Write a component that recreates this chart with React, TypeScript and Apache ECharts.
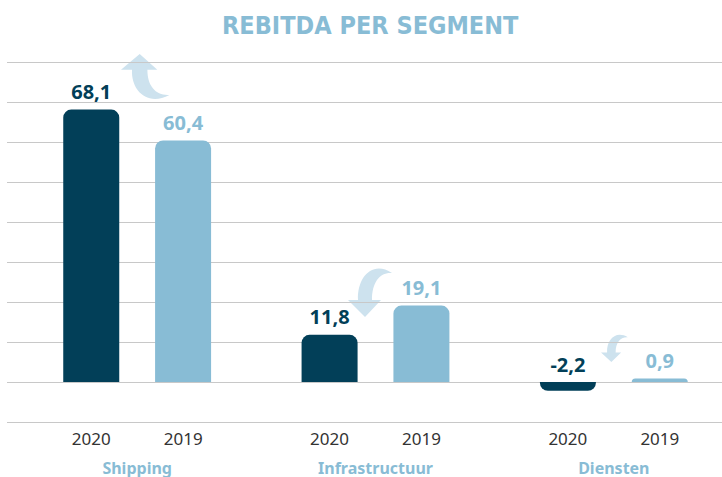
import React, { useEffect, useRef } from 'react';
import * as echarts from 'echarts';

const segments = ['Shipping', 'Infrastructuur', 'Diensten'];
const years = ['2020', '2019'];
const values2020 = [68.1, 11.8, -2.2];
const values2019 = [60.4, 19.1, 0.9];
const yMin = -10;
const yMax = 80;
const yInterval = 10;

const DARK = '#023f58';
const LIGHT = '#88bcd5';
const ARROW = '#cde2ee';

const ARROW_D = 'M 10 40 C 9 18 24 0 44 13 C 32 12 24 22 24 40 L 33 40 L 17 57 L 0 40 Z';
echarts.graphic.registerShape('curvedArrow', echarts.graphic.extendPath(ARROW_D, {}));

const fmt = (v: number) => v.toFixed(1).replace('.', ',');

const barData = (vals: number[]) =>
  vals.map((v) => ({
    value: v,
    itemStyle: { borderRadius: v >= 0 ? [8, 8, 0, 0] : [0, 0, 8, 8] },
  }));

export default function App() {
  const ref = useRef<HTMLDivElement>(null);
  useEffect(() => {
    if (!ref.current) return;
    const chart = echarts.init(ref.current, undefined, { renderer: 'svg' });
    const labelFont = { fontFamily: 'Noto Sans', fontWeight: 'bold' as const, fontSize: 20 };
    chart.setOption({
      animation: false,
      title: {
        text: 'REBITDA PER SEGMENT',
        left: 217,
        top: 8,
        textStyle: {
          fontFamily: 'DejaVu Sans Condensed',
          fontWeight: 'bold',
          fontSize: 25,
          color: LIGHT,
        },
      },
      grid: [
        { left: 7, right: 11, top: 62, height: 360 },
        { left: 18, right: 0, top: 62, height: 360 },
      ],
      xAxis: [
        { gridIndex: 0, type: 'value', show: false },
        {
          gridIndex: 1,
          type: 'category',
          data: segments,
          axisLine: { show: false },
          axisTick: { show: false },
          axisLabel: {
            margin: 8,
            formatter: (s: string) => `{y|${years[0]}}{y|${years[1]}}\n{g| }\n{s|${s}}`,
            rich: {
              y: {
                width: 92,
                align: 'center',
                fontFamily: 'Noto Sans',
                fontSize: 17,
                color: '#333333',
                lineHeight: 16,
              },
              g: { fontSize: 8, lineHeight: 13 },
              s: {
                fontFamily: 'Noto Sans',
                fontWeight: 'bold',
                fontSize: 16,
                color: LIGHT,
                lineHeight: 17,
              },
            },
          },
        },
      ],
      yAxis: [
        {
          gridIndex: 0,
          type: 'value',
          min: yMin,
          max: yMax,
          interval: yInterval,
          axisLabel: { show: false },
          axisLine: { show: false },
          axisTick: { show: false },
          splitLine: { lineStyle: { color: '#c8c8c8', width: 1 } },
        },
        {
          gridIndex: 1,
          type: 'value',
          min: yMin,
          max: yMax,
          interval: yInterval,
          show: false,
          splitLine: { show: false },
        },
      ],
      series: [
        {
          name: years[0],
          type: 'bar',
          xAxisIndex: 1,
          yAxisIndex: 1,
          data: barData(values2020),
          barWidth: 56,
          barGap: '64%',
          itemStyle: { color: DARK },
          label: {
            show: true,
            position: 'top',
            distance: 8,
            color: DARK,
            ...labelFont,
            formatter: (p: any) => fmt(p.value),
          },
        },
        {
          name: years[1],
          type: 'bar',
          xAxisIndex: 1,
          yAxisIndex: 1,
          data: barData(values2019),
          barWidth: 56,
          barGap: '64%',
          itemStyle: { color: LIGHT },
          label: {
            show: true,
            position: 'top',
            distance: 8,
            color: LIGHT,
            ...labelFont,
            formatter: (p: any) => fmt(p.value),
          },
        },
      ],
      graphic: [
        { type: 'curvedArrow', x: 121, y: 107, scaleX: 1.1, scaleY: -0.93, style: { fill: ARROW } },
        { type: 'curvedArrow', x: 348, y: 260, style: { fill: ARROW } },
        { type: 'curvedArrow', x: 601, y: 330, scaleX: 0.61, scaleY: 0.56, style: { fill: ARROW } },
      ],
    });
    return () => chart.dispose();
  }, []);
  return (
    <div style={{ position: 'absolute', left: 0, top: 0, width: 722, height: 477, overflow: 'hidden', background: '#ffffff' }}>
      <div ref={ref} style={{ width: 733, height: 477 }} />
    </div>
  );
}
